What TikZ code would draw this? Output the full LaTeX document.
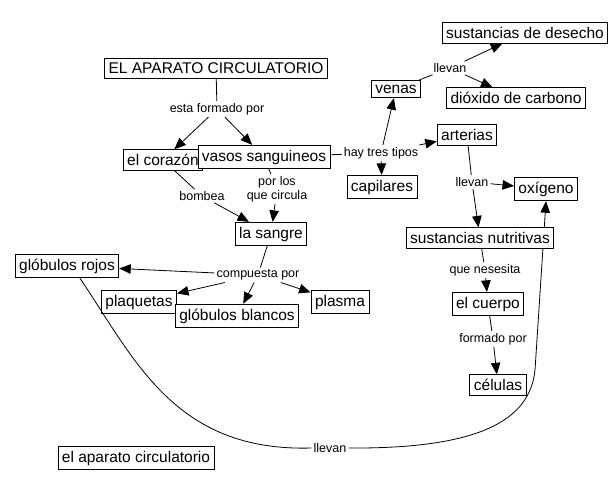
\documentclass[tikz,border=0pt]{standalone}
\usepackage{fontspec}
\setmainfont{Liberation Sans}
\usetikzlibrary{arrows.meta}

\begin{document}
\begin{tikzpicture}[x = 1pt, y = -1pt,
    concept/.style = {draw, fill = white, line width = 0.8pt, inner xsep = 4pt, inner ysep = 4.5pt, font = \fontsize{15.5}{18}\selectfont},
    linkword/.style = {inner sep = 2pt, align = center, font = \fontsize{12.5}{14}\selectfont},
    link/.style = {line width = 0.8pt},
    arrowlink/.style = {line width = 0.8pt, -{Triangle[length = 11.5pt, width = 9.5pt]}}]

        \useasboundingbox (0, 0) rectangle (615, 490);

        \node [concept] (titulo) at (216, 68) {EL APARATO CIRCULATORIO};
        \node [linkword] (formado) at (217, 109) {esta formado por};
        \node [concept] (corazon) at (163, 160) {el coraz\'on};
        \node [concept] (vasos) at (264, 157) {vasos sanguineos};
        \node [linkword] (bombea) at (202, 196) {bombea};
        \node [linkword] (circula) at (277, 189) {por los\\que circula};
        \node [concept] (sangre) at (271, 234) {la sangre};

        \node [linkword] (tipos) at (381, 153) {hay tres tipos};
        \node [concept] (venas) at (396, 89) {venas};
        \node [concept] (capilares) at (382, 187) {capilares};
        \node [concept] (arterias) at (467, 135) {arterias};
        \node [linkword] (llevanA) at (450, 68) {llevan};
        \node [concept] (desecho) at (525, 33) {sustancias de desecho};
        \node [concept] (dioxido) at (516, 98) {di\'oxido de carbono};
        \node [linkword] (llevanB) at (472, 182) {llevan};
        \node [concept] (oxigeno) at (546, 189) {ox\'igeno};

        \node [linkword] (compuesta) at (258, 275) {compuesta por};
        \node [concept] (rojos) at (67, 266) {gl\'obulos rojos};
        \node [concept] (plaquetas) at (139, 302) {plaquetas};
        \node [concept] (blancos) at (237, 316) {gl\'obulos blancos};
        \node [concept] (plasma) at (340, 302) {plasma};

        \node [linkword] (nesesita) at (485, 270) {que nesesita};
        \node [concept] (cuerpo) at (488, 304) {el cuerpo};
        \node [linkword] (formadopor) at (493, 339) {formado por};
        \node [concept] (celulas) at (498, 385) {c\'elulas};

        \node [linkword] (llevanC) at (330, 448) {llevan};
        \node [concept] (aparato) at (136, 458) {el aparato circulatorio};

        % curve behind the box of sustancias nutritivas
        \draw [arrowlink] (llevanC.east) .. controls (480, 449) and (530, 420) .. (535, 370) -- (oxigeno.south);
        \node [concept] (nutritivas) at (480, 238) {sustancias nutritivas};

        \draw [link] (titulo) -- (formado);
        \draw [arrowlink] (formado) -- (corazon);
        \draw [arrowlink] (formado) -- (vasos);
        \draw [link] (corazon) -- (bombea);
        \draw [arrowlink] (bombea) -- (sangre);
        \draw [link] (vasos) -- (circula);
        \draw [arrowlink] (circula) -- (sangre);

        \draw [link] (vasos) -- (tipos);
        \draw [arrowlink] (tipos) -- (venas);
        \draw [arrowlink] (tipos) -- (capilares);
        \draw [arrowlink] (tipos) -- (arterias);
        \draw [link] (venas) -- (llevanA);
        \draw [arrowlink] (llevanA) -- (desecho);
        \draw [arrowlink] (llevanA) -- (dioxido);
        \draw [link] (arterias) -- (llevanB);
        \draw [arrowlink] (llevanB) -- (oxigeno);
        \draw [arrowlink] (llevanB) -- (nutritivas);

        \draw [link] (sangre) -- (compuesta);
        \draw [arrowlink] (compuesta) -- (rojos);
        \draw [arrowlink] (compuesta) -- (plaquetas);
        \draw [arrowlink] (compuesta) -- (blancos);
        \draw [arrowlink] (compuesta) -- (plasma);

        \draw [link] (nutritivas) -- (nesesita);
        \draw [arrowlink] (nesesita) -- (cuerpo);
        \draw [link] (cuerpo) -- (formadopor);
        \draw [arrowlink] (formadopor) -- (celulas);

        \draw [link] ([xshift = 13pt]rojos.south) .. controls (135, 360) and (175, 452) .. (llevanC.west);
    \end{tikzpicture}
\end{document}
